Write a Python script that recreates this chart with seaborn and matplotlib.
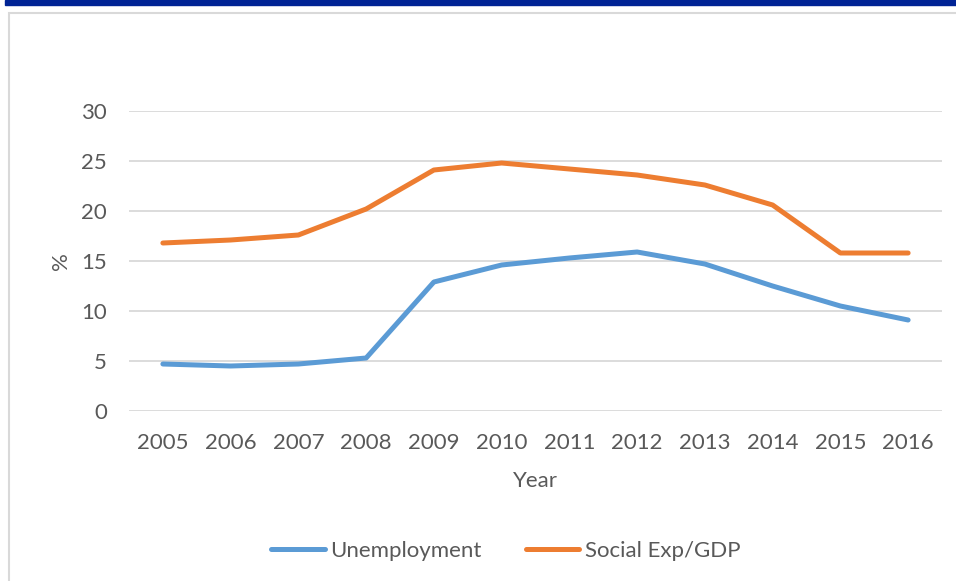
import matplotlib.pyplot as plt
import pandas as pd
import seaborn as sns
from matplotlib.patches import Rectangle

years = [2005, 2006, 2007, 2008, 2009, 2010, 2011, 2012, 2013, 2014, 2015, 2016]
unemployment = [4.7, 4.5, 4.7, 5.3, 12.9, 14.6, 15.3, 15.9, 14.7, 12.5, 10.5, 9.1]
social_exp = [16.8, 17.1, 17.6, 20.2, 24.1, 24.8, 24.2, 23.6, 22.6, 20.6, 15.8, 15.8]
series_names = ['Unemployment', 'Social Exp/GDP']
colors = ['#5B9BD5', '#ED7D31']

df = pd.DataFrame({'Year': [str(y) for y in years] * 2,
                   'value': unemployment + social_exp,
                   'series': [series_names[0]] * len(years) + [series_names[1]] * len(years)})

sns.set_style('white')
plt.rcParams['font.family'] = ['Lato', 'DejaVu Sans']

fig = plt.figure(figsize=(9.56, 5.81), dpi=100)

# chart frame and cut-off banner
fig.patches.append(Rectangle((9 / 956, -0.05), 1.0, 1 - 13 / 581 + 0.05,
                             transform=fig.transFigure, fill=False,
                             edgecolor='#d9d9d9', linewidth=1.5))
fig.patches.append(Rectangle((5 / 956, 1 - 5 / 581), 1.0, 5 / 581,
                             transform=fig.transFigure, color='#002395'))

ax = fig.add_axes([129 / 956, 1 - 411 / 581, (942 - 129) / 956, 300 / 581])
sns.lineplot(data=df, x='Year', y='value', hue='series', palette=colors,
             linewidth=3.6, ax=ax, sort=False, legend=True)
for line in ax.lines:
    line.set_solid_capstyle('round')

ax.set_ylim(0, 30)
ax.set_xlim(-0.5, len(years) - 0.5)
ax.set_yticks(range(0, 31, 5))
ax.yaxis.grid(True, color='#d9d9d9', linewidth=1.3)
ax.set_axisbelow(True)
for s in ax.spines.values():
    s.set_visible(False)
ax.tick_params(axis='both', length=0, labelsize=16, labelcolor='#595959')
ax.tick_params(axis='x', pad=16)
ax.tick_params(axis='y', pad=16)
ax.set_xlabel('Year', fontsize=16, color='#595959', labelpad=13)
ax.set_ylabel('%', fontsize=16, color='#595959', labelpad=7)

handles, labels = ax.get_legend_handles_labels()
ax.legend_.remove()
fig.legend(handles, labels, loc='center', bbox_to_anchor=(506 / 956, 1 - 551 / 581),
           ncol=2, frameon=False, fontsize=16, labelcolor='#595959',
           handlelength=2.4, columnspacing=2.0, handletextpad=0.25)

fig.savefig('out.png', dpi=100)
